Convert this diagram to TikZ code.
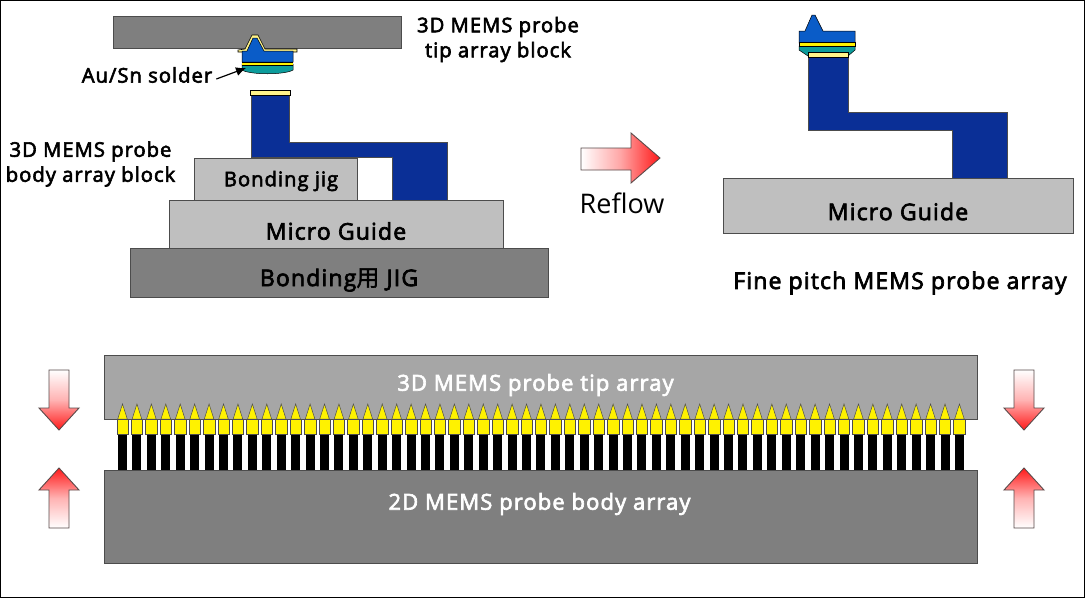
\documentclass[tikz,border=0pt]{standalone}
\usetikzlibrary{arrows.meta}
\usepackage{fontspec}
\setmainfont[FakeBold=3,LetterSpace=5]{Open Sans}
\newfontfamily\cjkf[FakeBold=1.5]{Noto Sans CJK SC}
\newfontfamily\thinf{Open Sans}
\definecolor{navyb}{HTML}{0A2F96}
\definecolor{blueb}{HTML}{0A5CC8}
\definecolor{tealb}{HTML}{0C9C9C}
\definecolor{yel}{HTML}{FFF200}
\definecolor{cream}{HTML}{FFF48A}
\definecolor{gdark}{HTML}{7F7F7F}
\definecolor{gmid}{HTML}{A6A6A6}
\definecolor{glight}{HTML}{BFBFBF}
\definecolor{arrowedge}{HTML}{5A4A4A}
\tikzset{
  x=1pt,y=-1pt,
  blockbox/.style={draw=black!70,line width=0.7pt},
  lbl/.style={font=\fontsize{23}{26}\selectfont,inner sep=0pt,text=black},
  lblsmall/.style={font=\fontsize{20.2}{25}\selectfont,inner sep=0pt,text=black,align=center},
  whitelbl/.style={font=\fontsize{22}{26}\selectfont,inner sep=0pt,text=white},
  probe/.style={fill=navyb,draw=black!70,line width=0.5pt},
  redarrow/.style={draw=arrowedge,line width=0.9pt},
}
\begin{document}
\begin{tikzpicture}
\useasboundingbox (0,0) rectangle (1085,598);
\fill[white] (0,0) rectangle (1085,598);
\draw[black,line width=1pt] (0.5,0.5) rectangle (1084,597);

% top-left assembly
\path[blockbox,fill=gdark] (113,16) rectangle (401,48);
% head
\path[draw=black,fill=cream,line width=0.6pt] (238,50) -- (245,49) -- (252,35) -- (258,35) -- (265,49) -- (297,49) -- (297,52) -- (238,52) -- cycle;
\path[draw=black,fill=blueb,line width=0.5pt] (242,51) -- (247,51) -- (253,38) -- (257,38) -- (264,51) -- (293,51) -- (293,62) -- (242,62) -- cycle;
\path[draw=black,fill=tealb,line width=0.5pt] (242,64) -- (293,64) -- (293,70) .. controls (285,75) and (250,75) .. (242,70) -- cycle;
\fill[yel] (242,62) rectangle (293,65);
\draw[black,line width=0.4pt] (242,62) -- (293,62) (242,65) -- (293,65);
% probe body
\path[probe] (251,94) -- (289,94) -- (289,142) -- (447,142) -- (447,200) -- (392,200) -- (392,157) -- (251,157) -- cycle;
\path[draw=black,fill=cream,line width=0.5pt] (250,90) rectangle (290,95);
% stacked
\path[blockbox,fill=glight] (194,158) rectangle (357,200);
\path[blockbox,fill=glight] (169,200) rectangle (503,248);
\path[blockbox,fill=gdark] (130,248) rectangle (548,297);

\node[lblsmall] (tipblock) at (498,39.5) {3D MEMS probe\\tip array block};
\node[lblsmall] (bodyblock) at (90.5,164) {3D MEMS probe\\body array block};
\node[lblsmall] (solder) at (147,75) {Au/Sn solder};
\coordinate (soldertip) at (246,68);
\draw[black,line width=1.2pt,-{Latex[length=10pt,width=9pt]}] ([shift={(4,4)}]solder.east) -- (soldertip);
\node[lblsmall] (jig) at (281,181) {Bonding jig};
\node[lbl] (guide) at (336,231) {Micro Guide};
\node[lbl] (bjig) at (339,280) {Bonding{\cjkf 用} JIG};

% reflow arrow
\path[redarrow,left color=white,right color=red!90,middle color=red!35] (581,148) -- (631,148) -- (631,133) -- (660,158) -- (631,183) -- (631,170) -- (581,170) -- cycle;
\node[font=\fontsize{27}{30}\selectfont\thinf,inner sep=0pt] (reflow) at (622,203) {Reflow};

% top-right
\path[probe] (808,57) -- (848,57) -- (848,112) -- (1007,112) -- (1007,178) -- (952,178) -- (952,130) -- (808,130) -- cycle;
\path[draw=black,fill=blueb,line width=0.5pt] (799,31) -- (805,31) -- (812,15) -- (815,15) -- (823,31) -- (855,31) -- (855,43) -- (799,43) -- cycle;
\path[draw=black,fill=tealb,line width=0.5pt] (799,46) -- (855,46) -- (855,50) -- (848,56) -- (808,56) -- (799,50) -- cycle;
\path[draw=black,fill=yel,line width=0.4pt] (799,42) rectangle (855,46);
\path[draw=black,fill=cream,line width=0.4pt] (808,52) rectangle (848,57);
\path[blockbox,fill=glight] (723,178) rectangle (1073,233);
\node[lbl] (guide2) at (898,211.5) {Micro Guide};
\node[lbl] (fine) at (900,283) {Fine pitch MEMS probe array};

% bottom
\path[blockbox,fill=gmid] (104,355) rectangle (977,419);
\path[blockbox,fill=gdark] (104,470) rectangle (977,563);
\foreach \i in {0,...,58}{
  \pgfmathsetmacro{\cx}{122.5+\i*14.43}
  \fill[black] (\cx-4.5,434) rectangle (\cx+4.5,470);
  \path[draw=black!70,fill=yel,line width=0.5pt] (\cx-4.8,419) -- (\cx,404) -- (\cx+4.8,419) -- cycle;
  \path[draw=black!70,fill=yel,line width=0.5pt] (\cx-5.7,419) rectangle (\cx+5.7,434);
}
\node[whitelbl] (tiparr) at (535.5,385) {3D MEMS probe tip array};
\node[whitelbl] (bodyarr) at (539.5,504) {2D MEMS probe body array};

% side arrows
\foreach \c in {59,1024}{
  \path[redarrow,top color=white,bottom color=red!90,middle color=red!30] (\c-10,370) -- (\c+10,370) -- (\c+10,408) -- (\c+20,408) -- (\c,430) -- (\c-20,408) -- (\c-10,408) -- cycle;
  \path[redarrow,bottom color=white,top color=red!90,middle color=red!30] (\c-10,528) -- (\c+10,528) -- (\c+10,490) -- (\c+20,490) -- (\c,468) -- (\c-20,490) -- (\c-10,490) -- cycle;
}
\end{tikzpicture}
\end{document}
